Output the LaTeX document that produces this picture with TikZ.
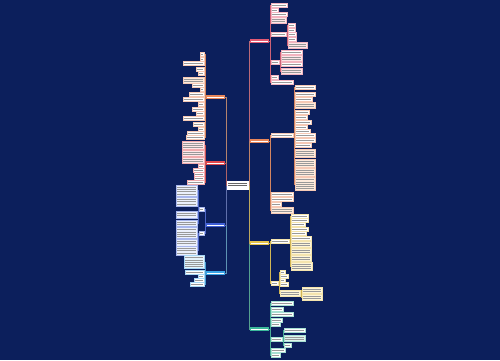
\documentclass[tikz,border=0pt]{standalone}
\usetikzlibrary{calc}
\definecolor{bgc}{HTML}{0C1F5C}
\definecolor{cRed}{HTML}{E35A73}
\definecolor{cOrange}{HTML}{E9865A}
\definecolor{cYellow}{HTML}{E6C34A}
\definecolor{cTeal}{HTML}{3BB89A}
\definecolor{cLRed}{HTML}{E0474C}
\definecolor{cBlue}{HTML}{3F5FD6}
\definecolor{cLBlue}{HTML}{3AA4E6}
\definecolor{pRed}{HTML}{FDE6E8}
\definecolor{pOrange}{HTML}{FDEBDD}
\definecolor{pYellow}{HTML}{FDF5D8}
\definecolor{pTeal}{HTML}{DFF5EE}
\definecolor{pBlue}{HTML}{EBF0FC}
\definecolor{pLBlue}{HTML}{E6F3FC}
\pgfdeclarelayer{back}
\pgfdeclarelayer{lines}
\pgfsetlayers{back,lines,main}
\tikzset{
  box/.style={rectangle, line width=0.25pt, inner sep=0pt, outer sep=0pt},
  branchbox/.style={box, draw=none, minimum width=19, minimum height=4.2},
  conn/.style={line width=0.5pt},
  tline/.style={line width=0.4pt}
}
\newcommand\tlines[3]{%
  \foreach \k in {1,...,#2}{%
    \draw[tline,#3] ($(#1.north west)+(1.2,{0.85+(\k-0.5)*2.3})$) -- ($(#1.north east)+(-1.4,{0.85+(\k-0.5)*2.3})$);}}
% right-side leaf: name, xleft, yc, width, lines, drawcolor, tint
\newcommand\lfR[7]{%
  \ifnum#5>1 \def\ff{#7}\else\def\ff{white}\fi
  \node[box, draw=#6!45!white, fill=\ff, minimum width=#4, minimum height={#5*2.3+1.7}, anchor=west] (#1) at (#2,#3) {};
  \tlines{#1}{#5}{black!40}}
% left-side leaf: name, xright, yc, width, lines, drawcolor, tint
\newcommand\lfL[7]{%
  \ifnum#5>1 \def\ff{#7}\else\def\ff{white}\fi
  \node[box, draw=#6!45!white, fill=\ff, minimum width=#4, minimum height={#5*2.3+1.7}, anchor=east] (#1) at (#2,#3) {};
  \tlines{#1}{#5}{black!40}}
\newcommand\cR[3]{\begin{pgfonlayer}{lines}\draw[conn,#3] (#1.east) -- ++(1,0) |- (#2.west);\end{pgfonlayer}}
\newcommand\cL[3]{\begin{pgfonlayer}{lines}\draw[conn,#3] (#1.west) -- ++(-1,0) |- (#2.east);\end{pgfonlayer}}
\begin{document}
\begin{tikzpicture}[x=1pt,y=-1pt]
\useasboundingbox (0,0) rectangle (500,360);
\begin{pgfonlayer}{back}\fill[bgc] (0,0) rectangle (500,360);\end{pgfonlayer}

% central node
\node[box, draw=white, fill=white, minimum width=21, minimum height=7.5, anchor=west] (C) at (227,185) {};
\tlines{C}{2}{black!60}

% main branches
\node[branchbox, fill=cRed, anchor=west] (R1) at (250,41) {};
\node[branchbox, fill=cOrange, anchor=west] (R2) at (250,141) {};
\node[branchbox, fill=cYellow, anchor=west] (R3) at (250,243) {};
\node[branchbox, fill=cTeal, anchor=west] (R4) at (250,329) {};
\node[branchbox, fill=cOrange, anchor=east] (L1) at (225,97) {};
\node[branchbox, fill=cLRed, anchor=east] (L2) at (225,163) {};
\node[branchbox, fill=cBlue, anchor=east] (L3) at (225,225) {};
\node[branchbox, fill=cLBlue, anchor=east] (L4) at (225,273) {};
\foreach \b in {R1,R2,R3,R4,L1,L2,L3,L4}{\tlines{\b}{1}{white!85}}

\cR{C}{R1}{cRed!60!gray}
\cR{C}{R4}{cTeal!60!gray}
\cR{C}{R3}{cYellow!60!gray}
\cR{C}{R2}{cOrange!60!gray}
\cL{C}{L1}{cOrange!50!gray}
\cL{C}{L4}{cLBlue!50!gray}
\cL{C}{L3}{cBlue!50!gray}
\cL{C}{L2}{cLRed!50!gray}

% ---- R1 (red)
\foreach \nm/\y/\ww/\nl in {a1/5/16/1, a2/10/7/1, a3/14/16/1, a4/20/15/2, a5/34/15/1, a6/62/8/1, a7/77/7/1, a8/82/22/1}{%
  \lfR{\nm}{271}{\y}{\ww}{\nl}{cRed}{pRed}\cR{R1}{\nm}{cRed!80!gray}}
\foreach \nm/\y/\ww/\nl in {a51/25/7/1, a52/30/7/1, a53/34/8/1, a54/39/8/1, a55/45/19/2}{%
  \lfR{\nm}{288}{\y}{\ww}{\nl}{cRed}{pRed}\cR{a5}{\nm}{cRed!80!gray}}
\foreach \nm/\y/\ww/\nl in {a61/52/21/1, a62/58/21/2, a63/64/21/1, a64/71/21/2}{%
  \lfR{\nm}{281}{\y}{\ww}{\nl}{cRed}{pRed}\cR{a6}{\nm}{cRed!80!gray}}

% ---- R2 (orange)
\foreach \nm/\y/\ww/\nl in {b1/135/22/1, b2/194/22/1, b3/199/22/1, b4/204/10/1, b5/210/22/2}{%
  \lfR{\nm}{271}{\y}{\ww}{\nl}{cOrange}{pOrange}\cR{R2}{\nm}{cOrange!80!gray}}
\foreach \nm/\y/\ww/\nl in {bb1/87/20/1, bb2/94/20/1, bb3/99/17/1, bb4/105/20/2, bb5/112/14/1, bb6/117/12/1, bb7/122/16/1, bb8/127/12/1, bb9/131/15/1, bb10/135/20/1, bb11/140/20/1, bb12/145/16/1, bb13/153/20/3, bb14/163/20/3, bb15/172/20/3, bb16/184/20/5}{%
  \lfR{\nm}{295}{\y}{\ww}{\nl}{cOrange}{pOrange}\cR{b1}{\nm}{cOrange!80!gray}}

% ---- R3 (yellow)
\foreach \nm/\y/\ww/\nl in {c1/241/18/1, c2/283/7/1}{%
  \lfR{\nm}{271}{\y}{\ww}{\nl}{cYellow}{pYellow}\cR{R3}{\nm}{cYellow!80!gray}}
\foreach \nm/\y/\ww/\nl in {cc1/216/17/1, cc2/220/17/1, cc3/224/14/1, cc4/229/17/1, cc5/233/15/1, cc6/238/20/1, cc7/244/20/2, cc8/251/20/2, cc9/258/20/2, cc10/266/21/3}{%
  \lfR{\nm}{291}{\y}{\ww}{\nl}{cYellow}{pYellow}\cR{c1}{\nm}{cYellow!80!gray}}
\foreach \nm/\y/\ww/\nl in {cd1/272/5/1, cd2/276/8/1, cd3/280/5/1, cd4/284/8/1, cd5/293/20/2}{%
  \lfR{\nm}{280}{\y}{\ww}{\nl}{cYellow}{pYellow}\cR{c2}{\nm}{cYellow!80!gray}}
\foreach \nm/\y/\ww/\nl in {ce1/290/20/2, ce2/297/20/2}{%
  \lfR{\nm}{302}{\y}{\ww}{\nl}{cYellow}{pYellow}\cR{cd5}{\nm}{cYellow!80!gray}}

% ---- R4 (teal)
\foreach \nm/\y/\ww/\nl in {d1/303/22/1, d2/309/12/1, d3/314/22/1, d4/320/11/1, d5/324/9/1, d6/339/11/1, d7/350/14/1, d8/355/9/1}{%
  \lfR{\nm}{271}{\y}{\ww}{\nl}{cTeal}{pTeal}\cR{R4}{\nm}{cTeal!80!gray}}
\foreach \nm/\y/\ww/\nl in {dd1/330/21/1, dd2/338/21/2, dd3/345/7/1}{%
  \lfR{\nm}{284}{\y}{\ww}{\nl}{cTeal}{pTeal}\cR{d6}{\nm}{cTeal!80!gray}}

% ---- L1 (orange)
\foreach \nm/\y/\ww/\nl in {e1/54/4/1, e2/59/4/1, e3/63/21/1, e4/69/8/1, e5/73/6/1, e6/80/21/2, e7/85/12/1, e8/89/4/1, e9/94/15/1, e10/99/21/1, e11/104/6/1, e12/109/12/1, e13/113/8/1, e14/118/21/1, e15/124/11/1, e16/129/6/1, e17/133/17/1, e18/137/18/1}{%
  \lfL{\nm}{204}{\y}{\ww}{\nl}{cOrange}{pOrange}\cL{L1}{\nm}{cOrange!80!gray}}

% ---- L2 (red)
\foreach \nm/\y/\ww/\nl in {f1/145/22/3, f2/153/22/2, f3/160/22/2, f4/166/6/1, f5/170/11/1, f6/174/10/1, f7/178/10/1, f8/182/17/1}{%
  \lfL{\nm}{204}{\y}{\ww}{\nl}{cLRed}{pRed}\cL{L2}{\nm}{cLRed!80!gray}}

% ---- L3 (blue)
\foreach \nm/\y/\ww/\nl in {gA/209/5/1, gB/233/5/1}{%
  \lfL{\nm}{204}{\y}{\ww}{\nl}{cBlue}{pBlue}\cL{L3}{\nm}{cBlue!80!gray}}
\foreach \nm/\y/\ww/\nl in {ga1/190.5/21/4, ga2/201.5/21/3, ga3/214.5/21/2, ga4/223/21/2}{%
  \lfL{\nm}{197}{\y}{\ww}{\nl}{cBlue}{pBlue}\cL{gA}{\nm}{cBlue!80!gray}}
\foreach \nm/\y/\ww/\nl in {gb1/233/21/4, gb2/242.5/21/2, gb3/250.5/21/3}{%
  \lfL{\nm}{197}{\y}{\ww}{\nl}{cBlue}{pBlue}\cL{gB}{\nm}{cBlue!80!gray}}

% ---- L4 (light blue)
\foreach \nm/\y/\ww/\nl in {h1/262/20/5, h2/272/19/1, h3/276/6/1, h4/280/10/1, h5/284/14/1}{%
  \lfL{\nm}{204}{\y}{\ww}{\nl}{cLBlue}{pLBlue}\cL{L4}{\nm}{cLBlue!80!gray}}
\end{tikzpicture}
\end{document}
